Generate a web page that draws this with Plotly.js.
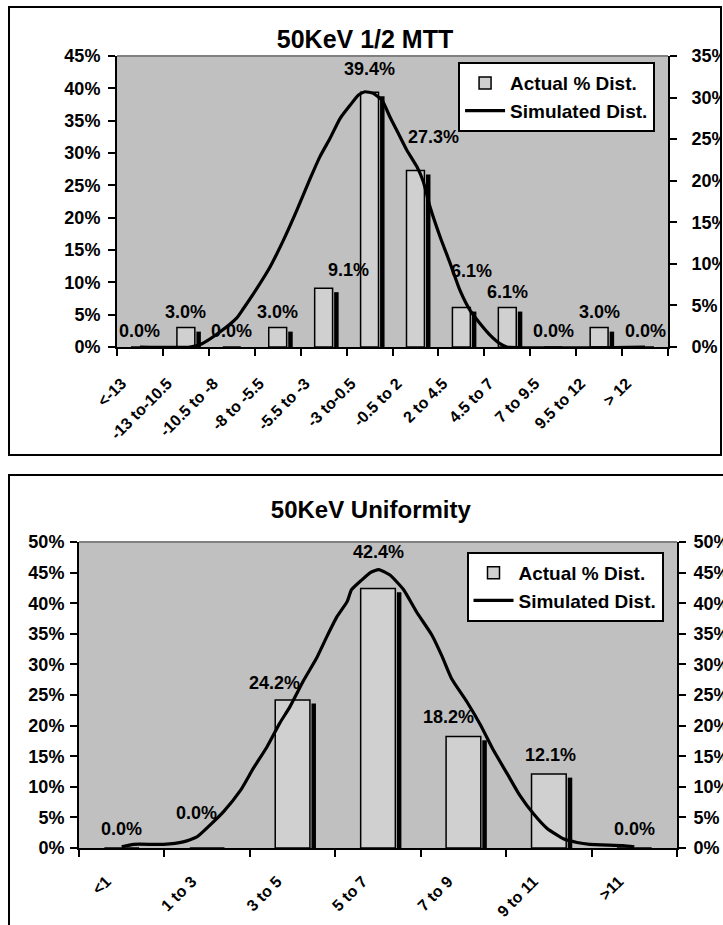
<!DOCTYPE html>
<html>
<head>
<meta charset="utf-8">
<script src="https://cdn.plot.ly/plotly-3.0.1.min.js"></script>
<style>
html, body { margin:0; padding:0; background:#fff; overflow:hidden; width:723px; height:925px; }
.box { position:absolute; border:2px solid #000; box-sizing:border-box; background:#fff; overflow:hidden; }
</style>
</head>
<body>
<div class="box" style="left:8px; top:6px; width:714px; height:450px;"><div id="chart1"></div></div>
<div class="box" style="left:8px; top:474px; width:780px; height:480px;"><div id="chart2"></div></div>
<script>
// ---- Chart 1 data: 50KeV 1/2 MTT ----
const topTitle = "50KeV 1/2 MTT";
const topCategories = ["<-13","-13 to-10.5","-10.5 to -8","-8 to -5.5","-5.5 to -3","-3 to-0.5","-0.5 to 2","2 to 4.5","4.5 to 7","7 to 9.5","9.5 to 12","> 12"];
const topActual = [0.0, 3.0, 0.0, 3.0, 9.1, 39.4, 27.3, 6.1, 6.1, 0.0, 3.0, 0.0];
const topSimX = [0, 1.09, 1.35, 1.74, 2.11, 2.25, 2.54, 2.83, 3.12, 3.42, 3.71, 3.92, 4.14, 4.36, 4.58, 4.76, 4.90, 5.08, 5.27, 5.45, 5.59, 5.81, 6.03, 6.17, 6.32, 6.54, 6.76, 6.97, 7.19, 7.41, 7.63, 7.84, 7.99, 11];
const topSimY = [0, 0, 0.4, 1.8, 3.5, 4.6, 7.0, 9.6, 12.8, 16.5, 20.3, 22.9, 25.1, 27.5, 29.1, 30.3, 30.7, 30.5, 29.7, 27.6, 26.1, 23.7, 21.7, 19.9, 16.8, 13.2, 10.0, 6.8, 4.4, 2.8, 1.4, 0.4, 0, 0];

// ---- Chart 2 data: 50KeV Uniformity ----
const botTitle = "50KeV Uniformity";
const botCategories = ["<1","1 to 3","3 to 5","5 to 7","7 to 9","9 to 11",">11"];
const botActual = [0.0, 0.0, 24.2, 42.4, 18.2, 12.1, 0.0];
const botSimX = [0, 0.14, 0.49, 0.72, 0.88, 1.03, 1.19, 1.39, 1.54, 1.70, 1.85, 1.97, 2.13, 2.28, 2.40, 2.52, 2.64, 2.69, 2.81, 2.91, 3.01, 3.14, 3.30, 3.45, 3.63, 3.75, 3.86, 4.04, 4.20, 4.35, 4.51, 4.66, 4.82, 4.98, 5.17, 5.33, 5.48, 5.87, 6];
const botSimY = [0.2, 0.6, 0.6, 1.0, 1.8, 3.7, 5.9, 9.4, 13.0, 16.5, 20.4, 23.1, 27.4, 31.0, 34.5, 37.8, 40.3, 42.2, 43.8, 45.0, 45.5, 44.6, 42.2, 38.6, 34.8, 31.3, 27.7, 23.9, 20.1, 16.0, 12.2, 8.6, 5.6, 3.2, 1.5, 0.9, 0.6, 0.4, 0.2];

const legendNames = ["Actual % Dist.", "Simulated Dist."];

// ---- styling (positions / offsets, not data) ----
const FONT = "'Liberation Sans', Arial, sans-serif";
const topLabelDx = [0, 0, 0, 0, 25, 0, 18, 10, 0, 0, 0, 0];
const topLabelDy = [16, 16, 16, 16, 18, 23, 33, 37, 16, 16, 16, 16];
const botLabelDx = [0, -11, -18, 0, -15, 2, 0];
const botLabelDy = [19, 35, 17, 37, 20, 19, 19];

function build(divId, o) {
  const n = o.categories.length;
  const idx = o.categories.map((c, i) => i);
  const bounds = [];
  for (let i = 0; i <= n; i++) bounds.push(i - 0.5);
  const f = (size) => ({family: FONT, size: size, color: '#000', weight: 700});

  const shadow = {
    type: 'bar', x: idx, y: o.values, base: -o.shadowDrop,
    width: o.shadowWidth, offset: o.shadowOffset,
    marker: {color: '#000', line: {width: 0}},
    showlegend: false, hoverinfo: 'skip'
  };
  const bars = {
    type: 'bar', name: legendNames[0], x: idx, y: o.values,
    width: o.barWidth, offset: -o.barWidth / 2,
    marker: {color: '#D0D0D0', line: {color: '#000', width: 1.5}}
  };
  const line = {
    type: 'scatter', mode: 'lines', name: legendNames[1],
    x: o.simX, y: o.simY, yaxis: 'y2',
    line: {color: '#000', width: 3.2, shape: 'spline', smoothing: 0.5}
  };
  // carrier for the category label axis (no visible marks)
  const labelCarrier = {
    type: 'scatter', mode: 'markers', x: idx, y: o.values, xaxis: 'x3', yaxis: 'y',
    marker: {opacity: 0, size: 1}, showlegend: false, hoverinfo: 'skip'
  };

  const annotations = o.values.map((v, i) => ({
    xref: 'x', yref: 'y', x: idx[i], y: v, text: v.toFixed(1) + '%',
    showarrow: false, yanchor: 'middle', xanchor: 'center',
    xshift: o.dx[i], yshift: o.dy[i], font: f(18)
  }));

  const layout = {
    width: o.width, height: o.height,
    margin: o.margin,
    paper_bgcolor: '#fff', plot_bgcolor: '#C0C0C0',
    barmode: 'overlay',
    title: {text: o.title, font: f(o.titleSize), xref: 'container', x: o.titleX, yref: 'container', y: o.titleY, xanchor: 'center', yanchor: 'middle'},
    xaxis: {
      range: [-0.5, n - 0.5], tickmode: 'array', tickvals: bounds, showticklabels: false,
      ticks: 'outside', ticklen: 7, tickwidth: 2, tickcolor: '#000',
      showline: true, linecolor: '#000', linewidth: 2, showgrid: false, zeroline: false, fixedrange: true
    },
    xaxis3: {
      overlaying: 'x', anchor: 'y', side: 'bottom',
      range: [-0.5 + o.labelShift, n - 0.5 + o.labelShift],
      tickmode: 'array', tickvals: idx, ticktext: o.categories,
      tickangle: -45, ticks: '', ticklabelstandoff: o.xLabelStandoff,
      showline: false, showgrid: false, zeroline: false, tickfont: f(16)
    },
    yaxis: {
      range: [0, o.yMax], dtick: 5, ticksuffix: '%',
      ticks: 'outside', ticklen: 7, tickwidth: 2, tickcolor: '#000',
      showline: true, linecolor: '#000', linewidth: 2, showgrid: false, zeroline: false,
      tickfont: f(18), ticklabelstandoff: o.yStandoff
    },
    yaxis2: {
      overlaying: 'y', side: 'right', anchor: 'x',
      range: [0, o.y2Max], dtick: 5, ticksuffix: '%',
      ticks: 'outside', ticklen: 7, tickwidth: 2, tickcolor: '#000',
      showline: true, linecolor: '#000', linewidth: 2, showgrid: false, zeroline: false,
      tickfont: f(18), ticklabelstandoff: o.y2Standoff
    },
    legend: {
      x: o.legendX, y: o.legendY, xanchor: 'left', yanchor: 'top',
      bgcolor: '#fff', bordercolor: '#000', borderwidth: 2,
      font: f(19), itemwidth: 40, tracegroupgap: 0, traceorder: 'normal'
    },
    showlegend: true,
    shapes: [{type: 'line', xref: 'paper', yref: 'paper', x0: 0, x1: 1, y0: 1, y1: 1, line: {color: '#808080', width: 2}}],
    annotations: annotations
  };
  Plotly.newPlot(divId, [labelCarrier, shadow, bars, line], layout, {staticPlot: true, displayModeBar: false});
}

build('chart1', {
  title: topTitle, categories: topCategories, values: topActual, simX: topSimX, simY: topSimY,
  dx: topLabelDx, dy: topLabelDy,
  width: 710, height: 446, margin: {l: 107, r: 52, t: 48, b: 107},
  titleX: 0.5, titleY: 0.93, titleSize: 25, yMax: 45, y2Max: 35,
  barWidth: 0.39, shadowWidth: 0.098, shadowOffset: 0.229, shadowDrop: 0.62,
  labelShift: 0.4, xLabelStandoff: 23, yStandoff: 4, y2Standoff: 11,
  legendX: 0.619, legendY: 0.979
});

build('chart2', {
  title: botTitle, categories: botCategories, values: botActual, simX: botSimX, simY: botSimY,
  dx: botLabelDx, dy: botLabelDy,
  width: 776, height: 476, margin: {l: 69, r: 109, t: 66, b: 104},
  titleX: 0.465, titleY: 0.9286, titleSize: 24, yMax: 50, y2Max: 50,
  barWidth: 0.406, shadowWidth: 0.053, shadowOffset: 0.221, shadowDrop: 0.6,
  labelShift: 0.18, xLabelStandoff: 20, yStandoff: 2, y2Standoff: 4,
  legendX: 0.648, legendY: 0.968
});
</script>
</body>
</html>
